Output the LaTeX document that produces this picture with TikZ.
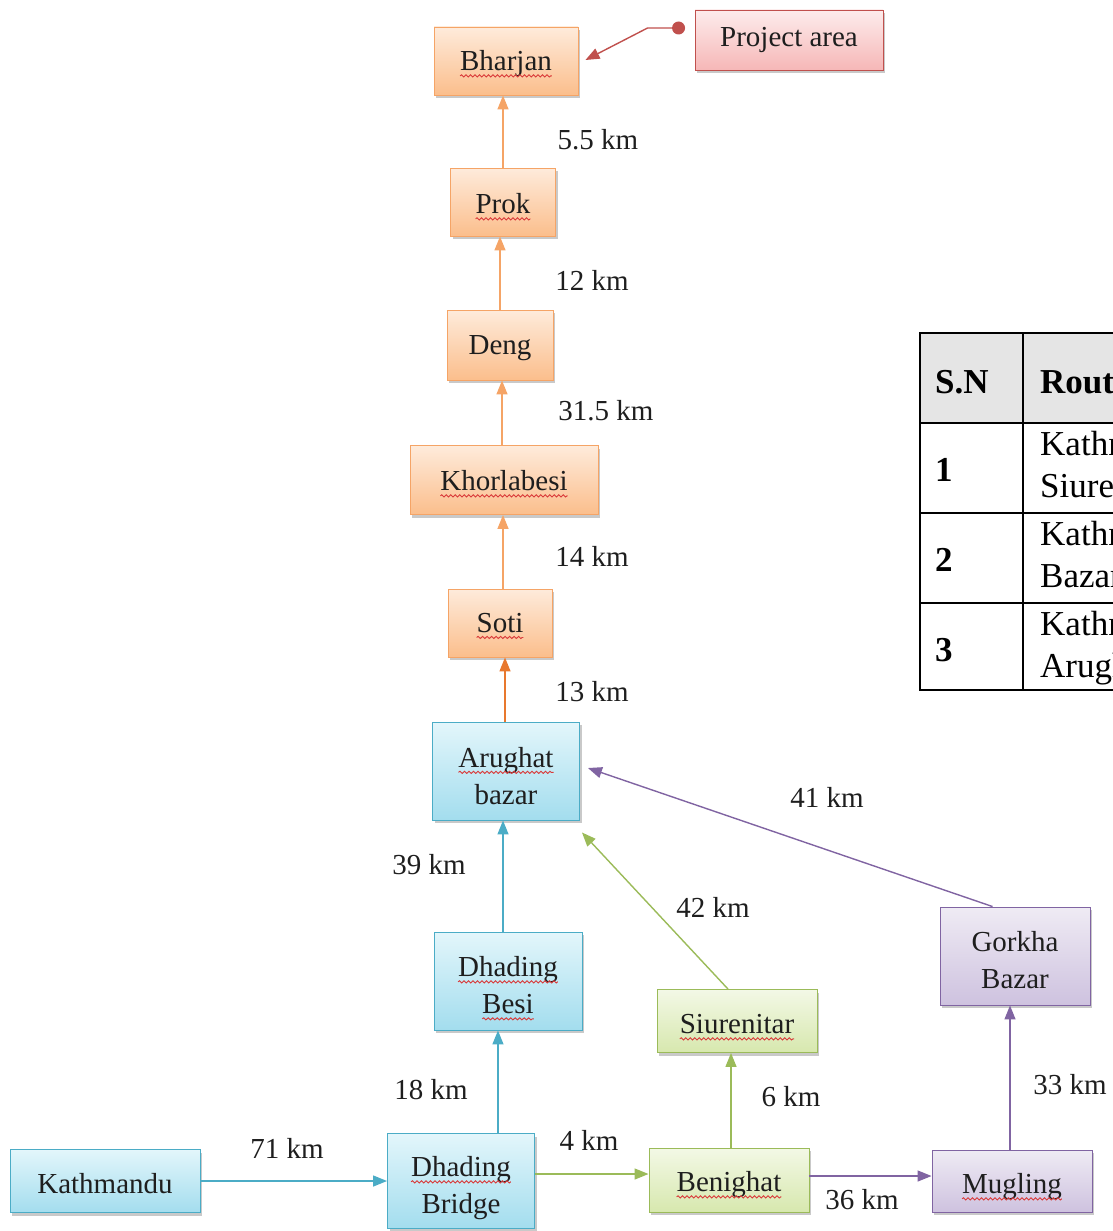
\documentclass[tikz,border=0pt]{standalone}
\usepackage{fontspec}
\setmainfont{Liberation Serif}
\usetikzlibrary{arrows.meta,shadows,calc,decorations.pathmorphing}

\definecolor{oTop}{HTML}{FEEBDB}
\definecolor{oBot}{HTML}{FBBE8C}
\definecolor{oLine}{HTML}{F5A466}
\definecolor{oDark}{HTML}{E8782E}
\definecolor{bTop}{HTML}{E3F6FB}
\definecolor{bBot}{HTML}{A3DDEE}
\definecolor{bLine}{HTML}{4BACC6}
\definecolor{gTop}{HTML}{F3F8E6}
\definecolor{gBot}{HTML}{D7E8AE}
\definecolor{gLine}{HTML}{9BBB59}
\definecolor{pTop}{HTML}{EFEBF4}
\definecolor{pBot}{HTML}{CEC2DF}
\definecolor{pLine}{HTML}{8064A2}
\definecolor{rTop}{HTML}{FDECEC}
\definecolor{rBot}{HTML}{F6B7B7}
\definecolor{rLine}{HTML}{C0504D}
\definecolor{txt}{HTML}{1E1E1E}
\definecolor{wave}{HTML}{D93A3A}

\newlength\sqw
\newsavebox\sqbox
\newcommand\sq[1]{\sbox\sqbox{#1}\setlength\sqw{\wd\sqbox}\leavevmode\rlap{\usebox\sqbox}%
  \tikz[baseline=0pt,x=1pt,y=1pt]{\useasboundingbox (0pt,0pt) rectangle (\sqw,1pt);
  \draw[wave,line width=0.9pt,decorate,decoration={snake,amplitude=1.1pt,segment length=4.5pt}] (0pt,-5pt) -- (\sqw,-5pt);}}
\newcommand\up[1]{\rule{0pt}{#1}}

\tikzset{
  box/.style={draw, line width=0.9pt, inner sep=0pt, align=center,
    font=\fontsize{29}{37}\selectfont, text=txt,
    drop shadow={shadow xshift=2pt, shadow yshift=-3pt, opacity=0.3, fill=black!70}},
  tdown/.style={execute at begin node={\rule{0pt}{#1}}},
  obox/.style={box, draw=oLine, top color=oTop, bottom color=oBot},
  bbox/.style={box, draw=bLine, top color=bTop, bottom color=bBot},
  gbox/.style={box, draw=gLine, top color=gTop, bottom color=gBot},
  pbox/.style={box, draw=pLine, top color=pTop, bottom color=pBot},
  rbox/.style={box, draw=rLine, top color=rTop, bottom color=rBot},
  lbl/.style={font=\fontsize{29}{34}\selectfont, text=txt, inner sep=0pt},
  con/.style={line width=1.4pt, -{Triangle[length=14pt,width=11pt]}},
  tbl/.style={font=\fontsize{35}{40}\selectfont, inner sep=0pt, anchor=base west},
  tblb/.style={font=\fontsize{35}{40}\selectfont\bfseries, inner sep=0pt, anchor=base west},
}

\begin{document}
\begin{tikzpicture}[x=1pt,y=-1pt]
\useasboundingbox (0,0) rectangle (1113,1231);

% ---------- nodes ----------
\node[obox, tdown=26pt, minimum width=144pt, minimum height=68pt] (bharjan) at (506,61) {\sq{Bharjan}};
\node[rbox, minimum width=188pt, minimum height=60pt] (project) at (789,40) {Project area};
\node[obox, tdown=24pt, minimum width=105pt, minimum height=68pt] (prok) at (503,202) {\sq{Prok}};
\node[obox, tdown=26pt, minimum width=106pt, minimum height=70pt] (deng) at (500,345) {Deng};
\node[obox, tdown=22pt, minimum width=188pt, minimum height=69pt] (khor) at (504,480) {\sq{Khorlabesi}};
\node[obox, minimum width=104pt, minimum height=68pt] (soti) at (500,623) {\sq{Soti}};
\node[bbox, minimum width=147pt, minimum height=98pt] (arughat) at (506,771) {\up{30pt}\sq{Arughat}\\bazar};
\node[bbox, minimum width=148pt, minimum height=98pt] (besi) at (508,981) {\up{29pt}\sq{Dhading}\\\sq{Besi}};
\node[gbox, tdown=26pt, minimum width=160pt, minimum height=63pt] (siu) at (737,1021) {\sq{Siurenitar}};
\node[pbox, minimum width=150pt, minimum height=98pt] (gorkha) at (1015,956) {\up{29pt}Gorkha\\Bazar};
\node[bbox, tdown=26pt, minimum width=190pt, minimum height=63pt] (kath) at (105,1181) {Kathmandu};
\node[bbox, minimum width=147pt, minimum height=95pt] (bridge) at (461,1181) {\up{35pt}\sq{Dhading}\\Bridge};
\node[gbox, tdown=30pt, minimum width=160pt, minimum height=64pt] (ben) at (729,1180) {\sq{Benighat}};
\node[pbox, tdown=32pt, minimum width=160pt, minimum height=62pt] (mug) at (1012,1181) {\sq{Mugling}};

% ---------- connectors ----------
\coordinate (pdot) at ($(project.west)+(-16,-12)$);
\draw[con, draw=rLine] (pdot) -- ++(-31,0) -- ($(bharjan.east)+(7,-1)$);
\fill[rLine] (pdot) circle[radius=6.5pt];

\draw[con, draw=oLine] (prok.north) -- (prok.north |- bharjan.south);
\draw[con, draw=oLine] (deng.north) -- (deng.north |- prok.south);
\draw[con, draw=oLine] ($(khor.north -| deng.north)+(2,0)$) -- ($(deng.south)+(2,0)$);
\draw[con, draw=oLine] ($(soti.north)+(3,0)$) -- ($(soti.north |- khor.south)+(3,0)$);
\draw[con, draw=oDark] ($(arughat.north)+(-1,0)$) -- ($(arughat.north |- soti.south)+(-1,0)$);

\draw[con, draw=bLine] ($(besi.north)+(-5,0)$) -- ($(besi.north |- arughat.south)+(-5,0)$);
\coordinate (bq) at ($(bridge.north west)!0.75!(bridge.north east)$);
\draw[con, draw=bLine] (bq) -- (bq |- besi.south);
\draw[con, draw=bLine] (kath.east) -- (kath.east -| bridge.west);

\draw[con, draw=gLine] ($(bridge.east)+(0,-7)$) -- ($(bridge.east -| ben.west)+(0,-7)$);
\draw[con, draw=gLine] ($(ben.north)+(2,0)$) -- ($(ben.north |- siu.south)+(2,0)$);
\draw[con, draw=gLine] ($(siu.north)+(-9,0)$) -- ($(arughat.south east)+(2,12)$);

\draw[con, draw=pLine] ($(ben.east)+(0,-4)$) -- ($(ben.east -| mug.west)+(0,-4)$);
\draw[con, draw=pLine] ($(mug.north)+(-2,0)$) -- ($(mug.north |- gorkha.south)+(-2,0)$);
\draw[con, draw=pLine] ($(gorkha.north west)+(53,0)$) -- ($(arughat.east)+(8,-3)$);

% ---------- labels ----------
\node[lbl] (l1) at (598,140) {5.5 km};
\node[lbl] (l2) at (592,280) {12 km};
\node[lbl] (l3) at (606,411) {31.5 km};
\node[lbl] (l4) at (592,556) {14 km};
\node[lbl] (l5) at (592,692) {13 km};
\node[lbl] (l6) at (429,865) {39 km};
\node[lbl] (l7) at (431,1090) {18 km};
\node[lbl] (l8) at (287,1148) {71 km};
\node[lbl] (l9) at (589,1140) {4 km};
\node[lbl] (l10) at (791,1097) {6 km};
\node[lbl] (l11) at (713,907) {42 km};
\node[lbl] (l12) at (827,797) {41 km};
\node[lbl] (l13) at (862,1200) {36 km};
\node[lbl] (l14) at (1070,1085) {33 km};

% ---------- table (cut at right edge, as in the reference) ----------
\begin{scope}
\clip (0,0) rectangle (1113,1231);
\fill[black!10] (920,333) rectangle (1200,423);
\draw[line width=2pt] (920,333) rectangle (1200,690);
\draw[line width=1.6pt] (920,423) -- (1200,423);
\draw[line width=1.6pt] (920,513) -- (1200,513);
\draw[line width=1.6pt] (920,603) -- (1200,603);
\draw[line width=1.6pt] (1023,333) -- (1023,690);
\node[tblb] (h1) at (935,393) {S.N};
\node[tblb] (h2) at (1040,393) {Route};
\node[tblb] (n1) at (935,481) {1};
\node[tblb] (n2) at (935,571) {2};
\node[tblb] (n3) at (935,661) {3};
\node[tbl] (r1a) at (1040,455) {Kathmandu};
\node[tbl] (r1b) at (1040,497) {Siurenitar};
\node[tbl] (r2a) at (1040,545) {Kathmandu};
\node[tbl] (r2b) at (1040,587) {Bazar};
\node[tbl] (r3a) at (1040,635) {Kathmandu};
\node[tbl] (r3b) at (1040,677) {Arughat};
\end{scope}
\end{tikzpicture}
\end{document}
